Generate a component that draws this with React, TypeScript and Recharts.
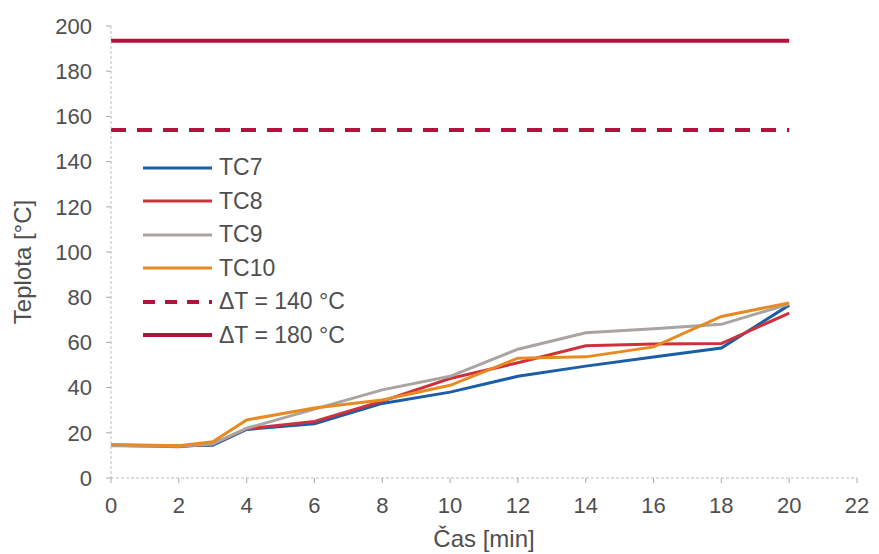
import React from 'react';
import { LineChart, Line, XAxis, YAxis } from 'recharts';

const time = [0, 2, 3, 4, 6, 8, 10, 12, 14, 16, 18, 20];
const tc7 = [14.5, 14.3, 14.5, 21.5, 24, 33, 38, 45, 49.5, 53.5, 57.5, 76.5];
const tc8 = [14.5, 13.8, 15, 21.8, 25, 34, 44, 51, 58.5, 59.3, 59.5, 73];
const tc9 = [14.3, 14, 15, 22, 30.5, 39, 45, 57, 64.3, 66, 68, 77];
const tc10 = [14.8, 14.3, 16, 25.7, 31, 34.5, 41, 53, 53.6, 58, 71.5, 77.5];
const dt140 = [154, 154, 154, 154, 154, 154, 154, 154, 154, 154, 154, 154];
const dt180 = [193.5, 193.5, 193.5, 193.5, 193.5, 193.5, 193.5, 193.5, 193.5, 193.5, 193.5, 193.5];

const xTicks = [0, 2, 4, 6, 8, 10, 12, 14, 16, 18, 20, 22];
const yTicks = [0, 20, 40, 60, 80, 100, 120, 140, 160, 180, 200];
const xMinor = Array.from({ length: 56 }, (_, i) => +(i * 0.4).toFixed(1));
const yMinor = Array.from({ length: 51 }, (_, i) => i * 4);

const data = time.map((t, i) => ({
  t,
  tc7: tc7[i],
  tc8: tc8[i],
  tc9: tc9[i],
  tc10: tc10[i],
  dt140: dt140[i],
  dt180: dt180[i],
}));

const series = [
  { key: 'tc7', name: 'TC7', color: '#1c5ea6', width: 3, dash: undefined },
  { key: 'tc8', name: 'TC8', color: '#cf313c', width: 3, dash: undefined },
  { key: 'tc9', name: 'TC9', color: '#a9a4a1', width: 3, dash: undefined },
  { key: 'tc10', name: 'TC10', color: '#e88a22', width: 3, dash: undefined },
  { key: 'dt140', name: 'ΔT = 140 °C', color: '#b3123d', width: 4, dash: '15 11' },
  { key: 'dt180', name: 'ΔT = 180 °C', color: '#b3123d', width: 4, dash: undefined },
];

const FONT = '"Liberation Sans", Arial, sans-serif';
const TEXT = '#4f4f4f';

// legend drawn as an overlay so it doesn't push the plot area around
const LegendBox = () => (
  <div style={{ position: 'absolute', left: 142, top: 151, fontFamily: FONT }}>
    {series.map(s => (
      <div key={s.key} style={{ display: 'flex', alignItems: 'center', height: 33.5 }}>
        <svg width={72} height={10} style={{ marginRight: 5 }}>
          <line x1={1} y1={5} x2={70} y2={5} stroke={s.color} strokeWidth={s.width}
            strokeDasharray={s.dash ? '12 10' : undefined} />
        </svg>
        <span style={{ fontSize: 23, color: TEXT }}>{s.name}</span>
      </div>
    ))}
  </div>
);

const noLabel = () => '';

export default function App() {
  return (
    <div style={{ position: 'absolute', left: 0, top: 0, width: 879, height: 554, background: '#fff' }}>
      <LineChart width={879} height={554} data={data}
        margin={{ top: 26, right: 22, bottom: 0, left: 0 }}>
        {/* minor ticks first so they sit right on the plot edge */}
        <XAxis xAxisId="minor" dataKey="t" type="number" domain={[0, 22]} ticks={xMinor}
          axisLine={false} tickLine={{ stroke: '#c8c8c8' }} tickSize={3} tickFormatter={noLabel} height={0} />
        <YAxis yAxisId="minor" type="number" domain={[0, 200]} ticks={yMinor} width={0}
          axisLine={false} tickLine={{ stroke: '#c8c8c8' }} tickSize={3} tickFormatter={noLabel} />
        <XAxis dataKey="t" type="number" domain={[0, 22]} ticks={xTicks} height={76}
          axisLine={{ stroke: '#bdbdbd', strokeDasharray: '3 2' }}
          tickLine={{ stroke: '#aaa' }} tickSize={5} tickMargin={14}
          tick={{ fill: TEXT, fontSize: 22, fontFamily: FONT }}
          label={{ value: 'Čas [min]', position: 'insideBottom', offset: 7, fill: TEXT, fontSize: 24, fontFamily: FONT }} />
        <YAxis type="number" domain={[0, 200]} ticks={yTicks} width={111}
          axisLine={{ stroke: '#bdbdbd', strokeDasharray: '3 2' }}
          tickLine={{ stroke: '#aaa' }} tickSize={5} tickMargin={14}
          tick={{ fill: TEXT, fontSize: 22, fontFamily: FONT }}
          label={(p: any) => {
            const vb = p.viewBox || {};
            const cy = (vb.y ?? 26) + (vb.height ?? 451) / 2 + 10;
            return (
              <text x={31} y={cy} transform={`rotate(-90 31 ${cy})`} textAnchor="middle"
                fill={TEXT} fontSize={24} fontFamily={FONT}>Teplota [°C]</text>
            );
          }} />
        {series.map(s => (
          <Line key={s.key} dataKey={s.key} name={s.name} type="linear" stroke={s.color}
            strokeWidth={s.width} strokeDasharray={s.dash} dot={false} activeDot={false}
            isAnimationActive={false} />
        ))}
      </LineChart>
      <LegendBox />
    </div>
  );
}
